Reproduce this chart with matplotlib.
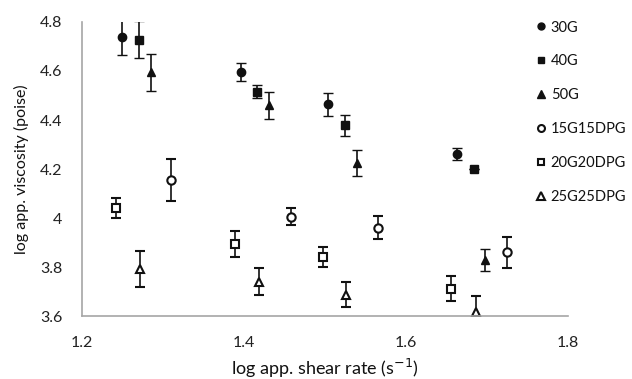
import numpy as np
import matplotlib.pyplot as plt

plt.rcParams['font.family'] = ['Lato', 'DejaVu Sans']

labels = ["30G", "40G", "50G", "15G15DPG", "20G20DPG", "25G25DPG"]
markers = ["o", "s", "^", "o", "s", "^"]
filled = [True, True, True, False, False, False]

# log shear rate, log viscosity, error
x_30g = [1.249, 1.396, 1.504, 1.663]
y_30g = [4.74, 4.595, 4.464, 4.262]
e_30g = [0.075, 0.036, 0.046, 0.025]

x_40g = [1.271, 1.416, 1.525, 1.684]
y_40g = [4.728, 4.516, 4.378, 4.201]
e_40g = [0.075, 0.026, 0.042, 0.0]

x_50g = [1.285, 1.431, 1.540, 1.698]
y_50g = [4.595, 4.46, 4.226, 3.83]
e_50g = [0.075, 0.055, 0.053, 0.045]

x_15 = [1.310, 1.458, 1.566, 1.725]
y_15 = [4.155, 4.006, 3.960, 3.860]
e_15 = [0.085, 0.035, 0.047, 0.064]

x_20 = [1.242, 1.389, 1.497, 1.656]
y_20 = [4.041, 3.896, 3.840, 3.712]
e_20 = [0.042, 0.053, 0.041, 0.052]

x_25 = [1.272, 1.418, 1.526, 1.686]
y_25 = [3.792, 3.741, 3.688, 3.618]
e_25 = [0.074, 0.055, 0.052, 0.064]

xs = [x_30g, x_40g, x_50g, x_15, x_20, x_25]
ys = [y_30g, y_40g, y_50g, y_15, y_20, y_25]
es = [e_30g, e_40g, e_50g, e_15, e_20, e_25]

fig = plt.figure(figsize=(6.32, 3.79), dpi=100)
ax = fig.add_axes([0.1297, 0.166, 0.769, 0.776])

for i in range(len(labels)):
    ms = 6 if markers[i] != "s" else 5.5
    ax.errorbar(xs[i], ys[i], yerr=es[i], fmt=markers[i], color="#111111",
                ecolor="#111111", elinewidth=1.2, capsize=3.5, capthick=1.2,
                markersize=ms, markeredgewidth=1.5 if not filled[i] else 1,
                markerfacecolor="#111111" if filled[i] else "white",
                markeredgecolor="#111111", label=labels[i])

ax.set_xlim(1.2, 1.8)
ax.set_ylim(3.6, 4.8)
ax.set_xticks([1.2, 1.4, 1.6, 1.8])
ax.set_xticklabels(["1.2", "1.4", "1.6", "1.8"])
ax.set_yticks([3.6, 3.8, 4.0, 4.2, 4.4, 4.6, 4.8])
ax.set_yticklabels(["3.6", "3.8", "4", "4.2", "4.4", "4.6", "4.8"])
ax.tick_params(length=0, labelsize=11.5, colors="#222222", pad=14)
ax.tick_params(axis="y", pad=14)
for s in ["top", "right"]:
    ax.spines[s].set_visible(False)
for s in ["left", "bottom"]:
    ax.spines[s].set_color("#a6a6a6")
    ax.spines[s].set_linewidth(1.2)

ax.set_xlabel("log app. shear rate (s$^{-1}$)", fontsize=13, color="#111111", labelpad=5)
ax.set_ylabel("log app. viscosity (poise)", fontsize=11.5, color="#111111", labelpad=8)

leg_handles = []
for i in range(len(labels)):
    ms = 5 if markers[i] != "^" else 5.5
    line, = ax.plot([], [], linestyle="none", marker=markers[i], markersize=ms,
                    markerfacecolor="#111111" if filled[i] else "white",
                    markeredgecolor="#111111", markeredgewidth=1.5 if not filled[i] else 1)
    leg_handles.append(line)
fig.legend(leg_handles, labels, loc="upper left", bbox_to_anchor=(0.838, 0.965),
           frameon=False, fontsize=10.5, handlelength=0.5, handletextpad=0.45,
           labelspacing=1.36, borderpad=0, labelcolor="#111111")

fig.savefig("out.png", dpi=100)
